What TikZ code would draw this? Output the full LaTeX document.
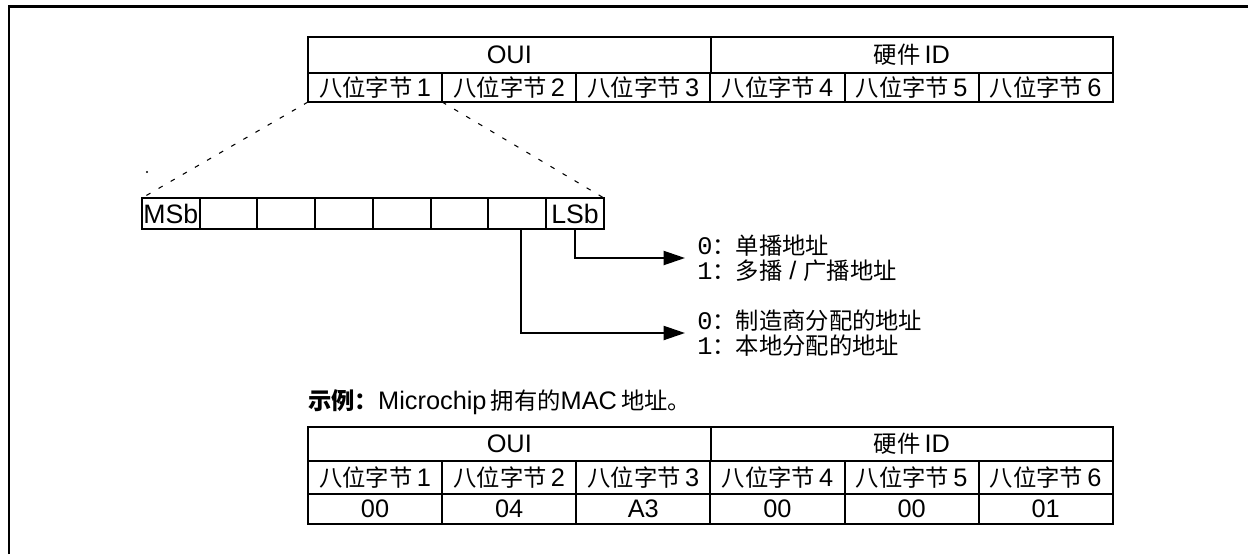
\documentclass[tikz,border=0pt]{standalone}
\usepackage{fontspec}
\setmainfont{Liberation Sans}
\setmonofont{Liberation Mono}
\newfontfamily\cjk[Scale=0.92]{Noto Sans CJK SC}
\usetikzlibrary{arrows.meta,positioning}
\newcommand{\octlbl}[1]{{\cjk 八位字节}\,#1}
\tikzset{
  cell/.style={draw, line width=1.5pt, inner sep=0pt, outer sep=0pt, minimum width=100.6pt, minimum height=21.75pt, font=\fontsize{19}{21}\selectfont},
  headcell/.style={cell, minimum width=301.9pt, minimum height=27pt},
  bitcell/.style={cell, minimum width=43.3pt, minimum height=23.25pt, font=\fontsize{20}{22}\selectfont},
  zoomline/.style={dash pattern=on 3.5pt off 7pt, line width=0.8pt},
  flow/.style={-{Triangle[length=16pt, width=10.5pt]}, line width=1.5pt},
  note/.style={align=left, anchor=west, inner sep=0pt, font=\fontsize{19}{18.75}\selectfont}
}
\begin{document}
\begin{tikzpicture}[x=0.75pt, y=-0.75pt]
  \useasboundingbox (0,0) rectangle (1248,554);
  \draw[line width=1.8pt] (9,554) -- (9,6.5) -- (1248,6.5);

  % address layout
  \node[headcell, anchor=north west] (oui) at (308,37) {OUI};
  \node[headcell, right=0pt of oui] (hwid) {{\cjk 硬件}\,ID};
  \node[cell, anchor=north west] (o1) at (oui.south west) {\octlbl{1}};
  \foreach \i [count=\j from 2] in {1,...,5}
    \node[cell, right=0pt of o\i] (o\j) {\octlbl{\j}};

  % bits of the first octet
  \node[bitcell, anchor=north west] (b1) at (142,198) {MSb};
  \foreach \i [count=\j from 2] in {1,...,6}
    \node[bitcell, right=0pt of b\i] (b\j) {};
  \node[bitcell, right=0pt of b7] (b8) {LSb};
  \draw[zoomline] (o1.south west) -- (b1.north west);
  \draw[zoomline] (o1.south east) -- (b8.north east);
  \fill (147,172) circle (0.9pt);

  \node[note] (uni) at (697,258) {{\ttfamily 0}{\cjk ：单播地址}\\{\ttfamily 1}{\cjk ：多播} / {\cjk 广播地址}};
  \node[note] (loc) at (697,333) {{\ttfamily 0}{\cjk ：制造商分配的地址}\\{\ttfamily 1}{\cjk ：本地分配的地址}};
  \draw[flow] (b8.south) |- ([xshift=-9pt]uni.west);
  \draw[flow] ([xshift=3pt]b7.south) |- ([xshift=-9pt]loc.west);

  % example
  \node[note, font=\fontsize{19}{21}\selectfont] (ex) at (308,402) {{\cjk\bfseries 示例：}Microchip\,{\cjk 拥有的}MAC\,{\cjk 地址。}};
  \node[headcell, minimum height=25.5pt, anchor=north west] (xoui) at (308,427) {OUI};
  \node[headcell, minimum height=25.5pt, right=0pt of xoui] (xhwid) {{\cjk 硬件}\,ID};
  \node[cell, minimum height=24.75pt, anchor=north west] (xo1) at (xoui.south west) {\octlbl{1}};
  \foreach \i [count=\j from 2] in {1,...,5}
    \node[cell, minimum height=24.75pt, right=0pt of xo\i] (xo\j) {\octlbl{\j}};
  \foreach \v [count=\i] in {00,04,A3,00,00,01}
    \node[cell, minimum height=22.5pt, below=0pt of xo\i] (v\i) {\v};
\end{tikzpicture}
\end{document}
